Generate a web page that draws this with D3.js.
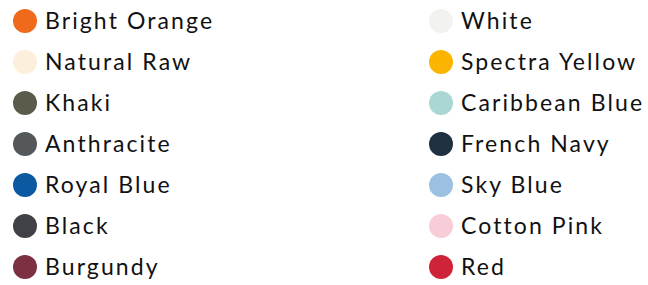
<!DOCTYPE html>
<html>
<head>
<meta charset="utf-8">
<script src="https://cdn.jsdelivr.net/npm/d3@7"></script>
<style>
  body { margin: 0; background: #fff; }
  svg text { font-family: Lato, "Open Sans", sans-serif; }
</style>
</head>
<body>
<svg id="legend" width="648" height="285"></svg>
<script>

const names = ['Bright Orange', 'Natural Raw', 'Khaki', 'Anthracite', 'Royal Blue', 'Black', 'Burgundy',
  'White', 'Spectra Yellow', 'Caribbean Blue', 'French Navy', 'Sky Blue', 'Cotton Pink', 'Red'];
const colours = ['#ef6a1a', '#fcefdb', '#5a5b4b', '#54585a', '#0b5aa1', '#404047', '#7d3042',
  '#f2f2f1', '#fbb500', '#aad6d3', '#1f3040', '#9bc0e2', '#f8cdd8', '#cf2339'];
const columns = [0, 1];
const rows = [0, 1, 2, 3, 4, 5, 6];

const svg = d3.select('#legend');

const x = d3.scalePoint()
    .domain(columns)
    .range([25, 441]);

const y = d3.scalePoint()
    .domain(rows)
    .range([21, 267]);

const items = names.map((name, i) => ({
  name: name,
  colour: colours[i],
  col: Math.floor(i / rows.length),
  row: i % rows.length
}));

const g = svg.selectAll('g.item')
  .data(items)
  .enter()
  .append('g')
    .attr('class', 'item')
    .attr('transform', d => `translate(${x(d.col)}, ${y(d.row)})`);

g.append('circle')
    .attr('r', 12)
    .attr('fill', d => d.colour);

g.append('text')
    .attr('x', 20)
    .attr('dy', '0.35em')
    .attr('font-size', 23)
    .attr('letter-spacing', 2.1)
    .attr('fill', '#111')
    .text(d => d.name);

</script>
</body>
</html>
